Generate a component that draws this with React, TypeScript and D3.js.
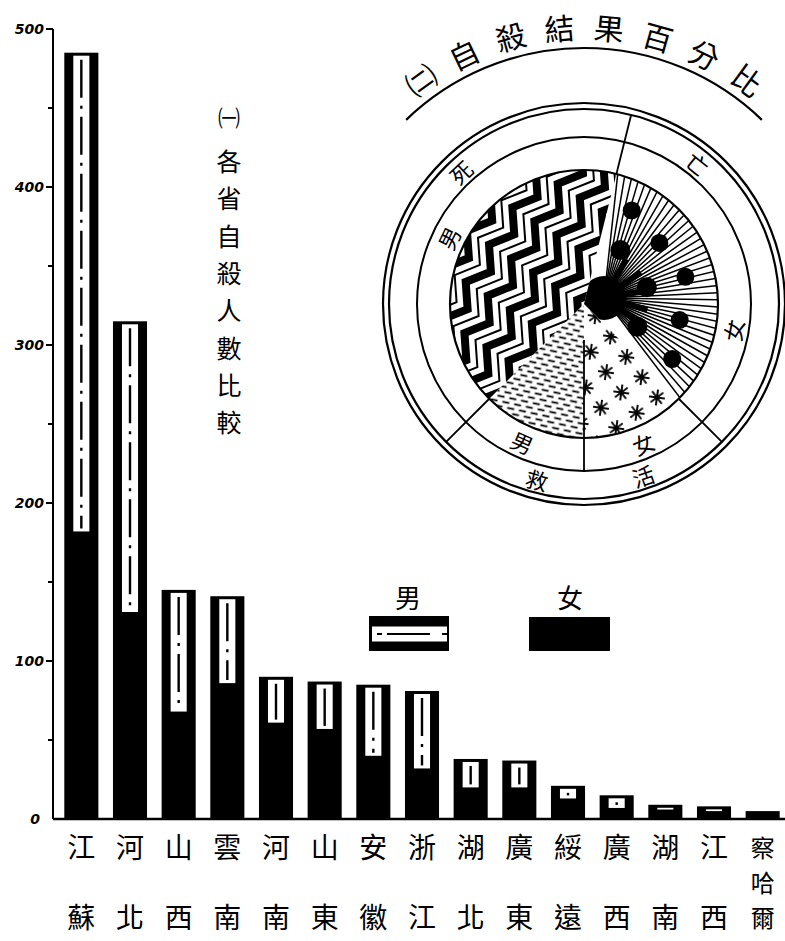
import React from "react";
import * as d3 from "d3";

// ---------- data ----------
const provinces = ["江蘇", "河北", "山西", "雲南", "河南", "山東", "安徽", "浙江", "湖北", "廣東", "綏遠", "廣西", "湖南", "江西", "察哈爾"];
const maleCounts = [303, 184, 77, 55, 29, 30, 45, 49, 18, 17, 8, 8, 3, 3, 1];
const femaleCounts = [182, 131, 68, 86, 61, 57, 40, 32, 20, 20, 13, 7, 6, 5, 4];
const yTicks = [0, 100, 200, 300, 400, 500];
const yMinorTicks = [50, 150, 250, 350, 450];

const pieCategories = ["女死亡", "女救活", "男救活", "男死亡"];
const pieShares = [33.6, 12.5, 12.5, 41.4];
const sexLabels = ["女", "女", "男", "男"];
const outcomeLabels = ["死", "亡", "救", "活"];
const titleChars = ["㈡", "自", "殺", "結", "果", "百", "分", "比"];
const verticalTitle = ["㈠", "各", "省", "自", "殺", "人", "數", "比", "較"];
const legendLabels = ["男", "女"];

// ---------- layout constants ----------
const W = 785;
const H = 941;
const CJK = "'Noto Sans CJK TC', 'Noto Sans CJK SC', sans-serif";
const cx = 584;
const cy = 304;
const R3 = 134; // pie
const R2 = 167;
const R1a = 195;
const R1b = 201;
const sexLabelAngles = [100, 157, 204, 296];
const outcomeLabelAngles = [317, 39, 195, 161];
const deg = Math.PI / 180;

function polar(aDeg: number, r: number): [number, number] {
  return [r * Math.sin(aDeg * deg), -r * Math.cos(aDeg * deg)];
}

export default function App() {
  const x = d3
    .scaleBand<string>()
    .domain(provinces)
    .range([57, 787])
    .paddingInner(0.3)
    .paddingOuter(0.15);
  const y = d3.scaleLinear().domain([0, 500]).range([819, 29]);
  const bw = x.bandwidth();

  // pie
  const pie = d3
    .pie<number>()
    .sort(null)
    .startAngle(14 * deg)
    .endAngle(374 * deg);
  const arcs = pie(pieShares);
  const arcGen = d3.arc<d3.PieArcDatum<number>>().innerRadius(0).outerRadius(R3);

  // zigzag stripes (texture for male death)
  const th = -58 * deg;
  const ux = Math.cos(th), uy = Math.sin(th);
  const vx = -uy, vy = ux;
  const line = d3.line();
  const zigThick: string[] = [];
  const zigThin: string[] = [];
  for (let k = -8; k <= 8; k++) {
    for (const off of [0, 13]) {
      const pts: [number, number][] = [];
      for (let i = -10; i <= 10; i++) {
        const u = i * 22;
        const v = k * 26 + off + (i % 2 === 0 ? -8 : 8);
        pts.push([u * ux + v * vx, u * uy + v * vy]);
      }
      (off === 0 ? zigThick : zigThin).push(line(pts) as string);
    }
  }

  // radial lines texture (female death)
  const B: [number, number] = [20, -6];
  const radial: [number, number][] = [];
  for (let a = 14; a <= 136; a += 3.1) {
    radial.push(polar(a, R3 + 10));
  }
  const dots: [number, number, number][] = [
    [27, 105, 9], [51, 97, 9], [75, 105, 9], [99.5, 97, 9], [122, 104, 9],
    [34, 65, 10], [75, 65, 10], [113, 58, 10],
  ];

  const titleArc = d3.path();
  titleArc.arc(0, 0, 256, (-44 - 90) * deg, (44 - 90) * deg);

  return (
    <svg
      width={W}
      height={H}
      viewBox={`0 0 ${W} ${H}`}
      style={{ position: "absolute", left: 0, top: 0, background: "#fff" }}
    >
      <defs>
        <pattern id="dashes" width="12" height="10" patternUnits="userSpaceOnUse" patternTransform="rotate(12)">
          <line x1="0.5" y1="2.5" x2="7.5" y2="2.5" stroke="#000" strokeWidth="1.8" />
          <line x1="6.5" y1="7.5" x2="13.5" y2="7.5" stroke="#000" strokeWidth="1.8" />
          <line x1="-5.5" y1="7.5" x2="1.5" y2="7.5" stroke="#000" strokeWidth="1.8" />
        </pattern>
        <pattern id="stars" width="36" height="36" patternUnits="userSpaceOnUse" patternTransform="translate(4,2) rotate(8)">
          {[[9, 9], [27, 27]].map(([sx, sy], i) => (
            <g key={i} stroke="#000" strokeWidth="1.9">
              {[0, 45, 90, 135].map((a) => (
                <line
                  key={a}
                  x1={sx - 8 * Math.cos(a * deg)}
                  y1={sy - 8 * Math.sin(a * deg)}
                  x2={sx + 8 * Math.cos(a * deg)}
                  y2={sy + 8 * Math.sin(a * deg)}
                />
              ))}
            </g>
          ))}
        </pattern>
        {arcs.map((a, i) => (
          <clipPath id={`wedge${i}`} key={i}>
            <path d={arcGen(a) as string} transform={`translate(${cx},${cy})`} />
          </clipPath>
        ))}
      </defs>

      {/* ---------- bar chart ---------- */}
      <g>
        {provinces.map((p, i) => {
          const m = maleCounts[i];
          const f = femaleCounts[i];
          const x0 = x(p) as number;
          const yTop = y(m + f);
          const yF = y(f);
          const whiteH = yF - yTop - 3;
          return (
            <g key={p}>
              <rect x={x0} y={yTop} width={bw} height={y(0) - yTop} fill="#000" />
              {whiteH > 0.5 && (
                <rect x={x0 + 9} y={yTop + 3} width={bw - 18} height={whiteH} fill="#fff" />
              )}
              {whiteH > 4 && (
                <line
                  x1={x0 + bw / 2}
                  x2={x0 + bw / 2}
                  y1={yTop + 7}
                  y2={yF - 3}
                  stroke="#000"
                  strokeWidth={2.4}
                  strokeDasharray="38 8 3 8"
                />
              )}
            </g>
          );
        })}
      </g>

      {/* axes */}
      <line x1={53} x2={53} y1={y(500)} y2={y(0)} stroke="#000" strokeWidth={2} />
      <line x1={53} x2={785} y1={y(0)} y2={y(0)} stroke="#000" strokeWidth={2.5} />
      {yTicks.map((t) => (
        <g key={t}>
          {t > 0 && <line x1={46} x2={53} y1={y(t)} y2={y(t)} stroke="#000" strokeWidth={2} />}
          <text
            x={t === 0 ? 40 : 44}
            y={y(t) + 5}
            textAnchor="end"
            fontFamily="'DejaVu Sans', sans-serif"
            fontWeight="bold"
            fontStyle="italic"
            fontSize={14}
          >
            {t}
          </text>
        </g>
      ))}
      {yMinorTicks.map((t) => (
        <line key={t} x1={48} x2={53} y1={y(t)} y2={y(t)} stroke="#000" strokeWidth={2} />
      ))}

      {/* x labels */}
      {provinces.map((p) => {
        const chars = Array.from(p);
        const xc = (x(p) as number) + bw / 2;
        const three = chars.length === 3;
        const ys = three ? [846, 881, 916] : [846, 916];
        return chars.map((c, j) => (
          <text
            key={p + j}
            x={xc}
            y={ys[j]}
            textAnchor="middle"
            dominantBaseline="central"
            fontFamily={CJK}
            fontSize={three ? 24 : 28}
          >
            {c}
          </text>
        ));
      })}

      {/* vertical title */}
      {verticalTitle.map((c, i) => (
        <text
          key={i}
          x={229}
          y={i === 0 ? 116 : 160 + (i - 1) * 37.3}
          textAnchor="middle"
          dominantBaseline="central"
          fontFamily={CJK}
          fontSize={i === 0 ? 22 : 25}
        >
          {c}
        </text>
      ))}

      {/* legend */}
      <rect x={369} y={616} width={80} height={35} fill="#000" />
      <rect x={372} y={626.5} width={75} height={15} fill="#fff" />
      <line x1={377} x2={447} y1={634} y2={634} stroke="#000" strokeWidth={2.2} strokeDasharray="5 5 43 12 5" />
      <rect x={529} y={617} width={81} height={34} fill="#000" />
      <text x={408} y={596} textAnchor="middle" dominantBaseline="central" fontFamily={CJK} fontSize={26}>
        {legendLabels[0]}
      </text>
      <text x={570} y={596} textAnchor="middle" dominantBaseline="central" fontFamily={CJK} fontSize={26}>
        {legendLabels[1]}
      </text>

      {/* ---------- pie chart ---------- */}
      <g transform={`translate(${cx},${cy})`}>
        <path d={titleArc.toString()} fill="none" stroke="#000" strokeWidth={2.2} />
        {titleChars.map((c, i) => {
          const a = -36 + 10.3 * i;
          const [tx, ty] = polar(a, 278);
          return (
            <text
              key={i}
              transform={`translate(${tx},${ty}) rotate(${a})`}
              textAnchor="middle"
              dominantBaseline="central"
              fontFamily={CJK}
              fontSize={30}
            >
              {c}
            </text>
          );
        })}
        <circle r={R1b} fill="none" stroke="#000" strokeWidth={2.2} />
        <circle r={R1a} fill="none" stroke="#000" strokeWidth={2.2} />
        <circle r={R2} fill="none" stroke="#000" strokeWidth={2} />
      </g>

      {/* wedge textures */}
      <g clipPath="url(#wedge3)">
        <g transform={`translate(${cx},${cy})`}>
          {zigThick.map((d, i) => (
            <path key={i} d={d} fill="none" stroke="#000" strokeWidth={8} strokeLinejoin="miter" />
          ))}
          {zigThin.map((d, i) => (
            <path key={i} d={d} fill="none" stroke="#000" strokeWidth={2} />
          ))}
        </g>
      </g>
      <g clipPath="url(#wedge0)">
        <g transform={`translate(${cx},${cy})`}>
          {radial.map(([px, py], i) => (
            <line key={i} x1={B[0]} y1={B[1]} x2={px} y2={py} stroke="#000" strokeWidth={1.5} />
          ))}
          <circle cx={B[0]} cy={B[1]} r={22} fill="#000" />
          {[30, 55, 80, 105, 125].map((a) => {
            const [px, py] = polar(a, 45);
            return <line key={a} x1={B[0]} y1={B[1]} x2={B[0] + px} y2={B[1] + py} stroke="#000" strokeWidth={6} />;
          })}
          {dots.map(([a, r, s], i) => {
            const [px, py] = polar(a, r);
            return <circle key={i} cx={px} cy={py} r={s} fill="#000" />;
          })}
        </g>
      </g>
      <path d={arcGen(arcs[1]) as string} transform={`translate(${cx},${cy})`} fill="url(#stars)" />
      <path d={arcGen(arcs[2]) as string} transform={`translate(${cx},${cy})`} fill="url(#dashes)" />

      <g transform={`translate(${cx},${cy})`}>
        <circle r={R3} fill="none" stroke="#000" strokeWidth={2.2} />
        {/* separators */}
        {[14, 135, 225].map((a) => {
          const [x1, y1] = polar(a, R3);
          const [x2, y2] = polar(a, R1a);
          return <line key={a} x1={x1} y1={y1} x2={x2} y2={y2} stroke="#000" strokeWidth={1.8} />;
        })}
        {(() => {
          const [x1, y1] = polar(180, 36);
          const [x2, y2] = polar(180, R2);
          return <line x1={x1} y1={y1} x2={x2} y2={y2} stroke="#000" strokeWidth={1.8} />;
        })()}
        {sexLabels.map((c, i) => {
          const a = sexLabelAngles[i];
          const [tx, ty] = polar(a, 151);
          const rot = a > 90 && a < 270 ? a - 180 : a;
          return (
            <text
              key={i}
              transform={`translate(${tx},${ty}) rotate(${rot})`}
              textAnchor="middle"
              dominantBaseline="central"
              fontFamily={CJK}
              fontSize={22}
            >
              {c}
            </text>
          );
        })}
        {outcomeLabels.map((c, i) => {
          const a = outcomeLabelAngles[i];
          const [tx, ty] = polar(a, 181);
          const rot = a > 90 && a < 270 ? a - 180 : a;
          return (
            <text
              key={i}
              transform={`translate(${tx},${ty}) rotate(${rot})`}
              textAnchor="middle"
              dominantBaseline="central"
              fontFamily={CJK}
              fontSize={22}
            >
              {c}
            </text>
          );
        })}
      </g>
    </svg>
  );
}
